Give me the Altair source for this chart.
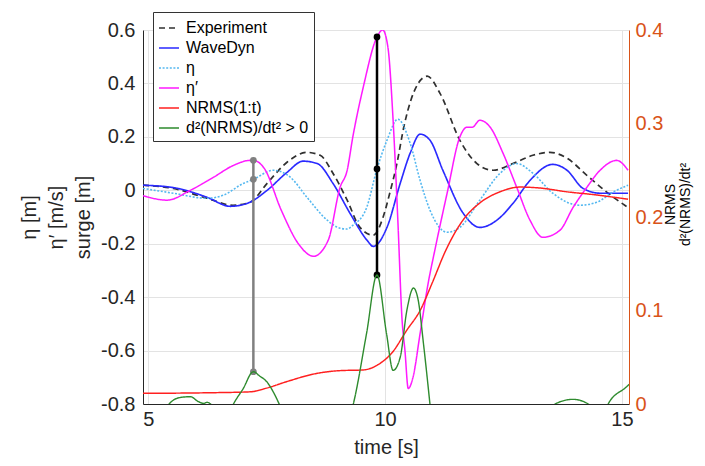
import altair as alt
import pandas as pd

FONT = "Liberation Sans"
ORANGE = "#D95319"
DARK = "#262626"

# ---------------- data ----------------
series_names = ["Experiment", "WaveDyn", "η", "η′", "NRMS(1:t)", "d²(NRMS)/dt² > 0"]
series_colors = ["#303030", "#2a2aff", "#55b8f0", "#ff1aff", "#ff2020", "#2e8b2e"]
series_dash = [[6, 4], [1, 0], [2, 1.6], [1, 0], [1, 0], [1, 0]]
series_width = [1.7, 1.4, 3.2, 1.5, 1.3, 1.7]

exp_t = [4.89, 5.53, 6.24, 6.79, 7.15, 7.51, 7.93, 8.35, 8.63, 8.90, 9.20, 9.47, 9.75,
         9.96, 10.1, 10.25, 10.4, 10.55, 10.7, 10.89, 11.16, 11.58, 11.94, 12.28, 12.70,
         13.12, 13.48, 13.84, 14.26, 14.68, 15.06, 15.13]
exp_v = [0.019, 0.007, -0.03, -0.056, -0.045, 0.026, 0.105, 0.142, 0.131, 0.064, -0.037,
         -0.139, -0.168, -0.10, -0.01, 0.10, 0.24, 0.34, 0.40, 0.427, 0.363, 0.187, 0.10,
         0.075, 0.10, 0.131, 0.142, 0.12, 0.056, -0.007, -0.056, -0.064]

wd_t = [4.89, 5.53, 6.24, 6.73, 7.09, 7.51, 7.93, 8.27, 8.57, 8.90, 9.26, 9.62, 9.75,
        10.04, 10.32, 10.53, 10.74, 10.95, 11.22, 11.65, 12.0, 12.36, 12.70, 13.06, 13.54,
        13.84, 14.18, 14.54, 15.13]
wd_v = [0.019, 0.01, -0.026, -0.06, -0.049, 0.0, 0.067, 0.109, 0.10, 0.026, -0.086, -0.187,
        -0.21, -0.139, 0.026, 0.139, 0.21, 0.187, 0.075, -0.086, -0.139, -0.112, -0.049,
        0.037, 0.097, 0.075, 0.007, -0.011, -0.011]

eta_t = [4.89, 5.53, 6.24, 6.58, 7.0, 7.22, 7.64, 8.0, 8.35, 8.78, 9.05, 9.2, 9.32, 9.6,
         9.83, 10.04, 10.27, 10.53, 10.74, 10.95, 11.31, 11.58, 12.0, 12.43, 12.78, 13.12,
         13.54, 14.11, 14.47, 14.81, 15.13]
eta_v = [0.007, -0.011, -0.03, -0.019, 0.025, 0.041, 0.075, 0.049, -0.026, -0.112, -0.142,
         -0.145, -0.131, -0.07, 0.08, 0.187, 0.266, 0.176, 0.037, -0.075, -0.157, -0.139,
         -0.037, 0.064, 0.10, 0.064, -0.011, -0.056, -0.045, -0.007, 0.019]

etap_t = [4.89, 5.4, 5.89, 6.38, 6.81, 7.15, 7.22, 7.45, 7.81, 8.17, 8.49, 8.80, 9.05,
          9.20, 9.32, 9.54, 9.83, 9.95, 10.06, 10.17, 10.27, 10.36, 10.42, 10.49, 10.59,
          10.74, 10.91, 11.05, 11.31, 11.58, 11.73, 11.84, 12.0, 12.22, 12.49, 12.78, 13.06,
          13.33, 13.69, 13.97, 14.26, 14.54, 14.89, 15.13]
etap_v = [-0.02, -0.037, 0.0, 0.049, 0.094, 0.112, 0.112, 0.082, -0.075, -0.2, -0.247,
          -0.187, 0.011, 0.075, 0.2, 0.386, 0.574, 0.60, 0.536, 0.262, -0.112, -0.487, -0.6,
          -0.742, -0.70, -0.536, -0.348, -0.225, -0.011, 0.2, 0.236, 0.236, 0.262, 0.236,
          0.139, 0.011, -0.112, -0.176, -0.15, -0.064, 0.011, 0.075, 0.112, 0.075]

nrms_t = [4.89, 6.24, 7.15, 7.50, 7.93, 8.49, 9.05, 9.54, 9.85, 10.15, 10.46, 10.74, 11.0,
          11.27, 11.65, 12.0, 12.43, 12.85, 13.27, 13.83, 14.39, 15.13]
nrms_v = [0.0114, 0.012, 0.013, 0.017, 0.024, 0.032, 0.0357, 0.0364, 0.042, 0.055, 0.079,
          0.10, 0.13, 0.163, 0.197, 0.215, 0.227, 0.232, 0.231, 0.227, 0.224, 0.219]

d2_seg = [1, 1, 1, 1, 1, 1, 1, 1,
          2, 2, 2, 2, 2, 2, 2, 2,
          3, 3, 3, 3, 3, 3, 3, 3, 3, 3, 3, 3,
          4, 4, 4, 4, 4,
          5, 5, 5, 5]
d2_t = [5.40, 5.46, 5.68, 5.89, 6.06, 6.17, 6.24, 6.36,
        6.76, 6.80, 7.0, 7.22, 7.35, 7.50, 7.65, 7.80,
        9.30, 9.33, 9.61, 9.83, 10.03, 10.17, 10.32, 10.46, 10.60, 10.70, 10.81, 10.96,
        13.55, 13.59, 13.97, 14.29, 14.33,
        14.67, 14.71, 15.10, 15.15]
d2_v = [-0.003, 0.001, 0.007, 0.0078, 0.0025, 0.0007, 0.0018, -0.002,
        -0.004, 0.0, 0.016, 0.0345, 0.030, 0.024, 0.012, -0.004,
        -0.006, 0.0, 0.0756, 0.138, 0.0756, 0.036, 0.05, 0.10, 0.124, 0.111, 0.065, -0.006,
        -0.002, 0.0, 0.005, 0.0, -0.002,
        -0.004, 0.0, 0.0185, 0.021]

mark_t = [7.22, 9.83]
mark_eta = [0.041, 0.08]
mark_etap = [0.112, 0.574]
mark_d2 = [0.0345, 0.138]
mark_color = ["#808080", "#000000"]

left_ticks = [-0.8, -0.6, -0.4, -0.2, 0, 0.2, 0.4, 0.6]
right_ticks = [0, 0.1, 0.2, 0.3, 0.4]
x_ticks = [5, 10, 15]

LEFT_DOM = [-0.8, 0.6]
RIGHT_DOM = [0, 0.4]


def to_left(r):
    # right-axis value expressed in left-axis units (same pixel)
    return LEFT_DOM[0] + (r - RIGHT_DOM[0]) * (LEFT_DOM[1] - LEFT_DOM[0]) / (RIGHT_DOM[1] - RIGHT_DOM[0])


rows = []
for name, ts, vs in [(series_names[0], exp_t, exp_v), (series_names[1], wd_t, wd_v),
                     (series_names[2], eta_t, eta_v), (series_names[3], etap_t, etap_v)]:
    for i, (t, v) in enumerate(zip(ts, vs)):
        rows.append({"series": name, "t": t, "v": v, "seg": 0, "i": i})
left_df = pd.DataFrame(rows)

rows = []
for i, (t, v) in enumerate(zip(nrms_t, nrms_v)):
    rows.append({"series": series_names[4], "t": t, "v": v, "seg": 0, "i": i})
for i, (s, t, v) in enumerate(zip(d2_seg, d2_t, d2_v)):
    rows.append({"series": series_names[5], "t": t, "v": v, "seg": s, "i": i})
right_df = pd.DataFrame(rows)

rule_df = pd.DataFrame({"t": mark_t, "v": mark_etap, "v2": [to_left(r) for r in mark_d2],
                        "c": mark_color})
pt_rows = []
for t, a, b, r, c in zip(mark_t, mark_eta, mark_etap, mark_d2, mark_color):
    for val in (a, b, to_left(r)):
        pt_rows.append({"t": t, "v": val, "c": c})
pt_df = pd.DataFrame(pt_rows)

# ---------------- encodings ----------------
x_enc = alt.X("t:Q", scale=alt.Scale(domain=[4.89, 15.15], nice=False, zero=False),
              axis=alt.Axis(values=x_ticks, title="time [s]", grid=True, ticks=False,
                            labelPadding=5, titlePadding=8, domainColor=DARK))

left_axis = alt.Axis(values=left_ticks, orient="left", grid=True, ticks=False,
                     title=["η [m]", "η′ [m/s]", "surge [m]"], titleLineHeight=27,
                     titlePadding=7, labelPadding=8,
                     labelExpr="(datum.value < -1e-9 ? '-' : '') + format(abs(datum.value), '.1~f')")
left_scale = alt.Scale(domain=LEFT_DOM, nice=False, zero=False)

right_axis = alt.Axis(values=right_ticks, orient="right", grid=False, ticks=False,
                      title=["NRMS", "d²(NRMS)/dt²"], titleFontSize=14, titleLineHeight=15,
                      titleAngle=270, titleColor="#000000", titlePadding=0, titleY=174,
                      labelColor=ORANGE, domainColor=ORANGE, labelPadding=6,
                      labelExpr="format(datum.value, '.1~f')")
right_scale = alt.Scale(domain=RIGHT_DOM, nice=False, zero=False)

leg = alt.Legend(title=None, orient="none", legendX=10, legendY=-18)
color_enc = alt.Color("series:N", scale=alt.Scale(domain=series_names, range=series_colors), legend=leg)
dash_enc = alt.StrokeDash("series:N", scale=alt.Scale(domain=series_names, range=series_dash), legend=leg)
width_enc = alt.StrokeWidth("series:N", scale=alt.Scale(domain=series_names, range=series_width), legend=leg)

left_lines = alt.Chart(left_df).mark_line(interpolate="monotone", clip=True).encode(
    x=x_enc,
    y=alt.Y("v:Q", scale=left_scale, axis=left_axis),
    color=color_enc, strokeDash=dash_enc, strokeWidth=width_enc,
    detail="seg:N", order="i:Q",
)

rules = alt.Chart(rule_df).mark_rule(strokeWidth=2.5).encode(
    x=alt.X("t:Q"),
    y=alt.Y("v:Q", scale=left_scale, axis=left_axis),
    y2="v2:Q",
    color=alt.Color("c:N", scale=None),
)

points = alt.Chart(pt_df).mark_circle(size=45, opacity=1).encode(
    x=alt.X("t:Q"),
    y=alt.Y("v:Q", scale=left_scale, axis=left_axis),
    color=alt.Color("c:N", scale=None),
)

left_layer = alt.layer(left_lines, rules, points)

right_lines = alt.Chart(right_df).mark_line(interpolate="monotone", clip=True).encode(
    x=alt.X("t:Q"),
    y=alt.Y("v:Q", scale=right_scale, axis=right_axis),
    color=color_enc, strokeDash=dash_enc, strokeWidth=width_enc,
    detail="seg:N", order="i:Q",
)

chart = alt.layer(left_layer, right_lines).resolve_scale(y="independent").properties(
    width=486, height=374,
    autosize=alt.AutoSizeParams(type="none"),
    padding={"left": 135, "top": 22, "right": 68, "bottom": 62},
).configure_view(stroke=None).configure_axis(
    labelFont=FONT, titleFont=FONT, labelFontSize=20, titleFontSize=20,
    labelColor=DARK, titleColor=DARK, domainColor=DARK, gridColor="#e3e3e3",
    titleFontWeight="normal", domainWidth=1,
).configure_legend(
    labelFont=FONT, labelFontSize=16, labelColor="#000000", symbolType="stroke",
    symbolSize=400, fillColor="white", strokeColor="#333333", padding=5,
    rowPadding=1, labelOffset=6, symbolStrokeWidth=1.5,
)

chart.save("out.html", embed_options={"renderer": "svg", "actions": False})
